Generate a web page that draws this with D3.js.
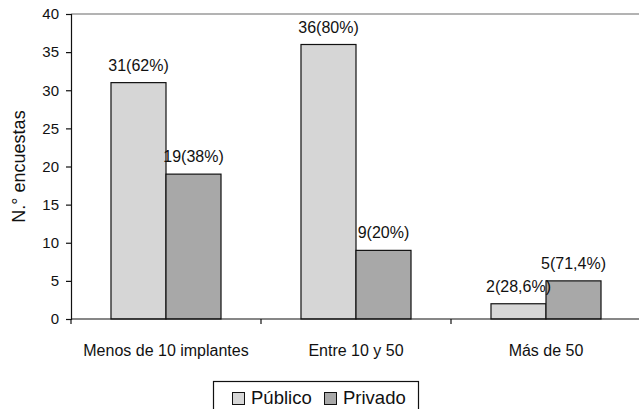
<!DOCTYPE html>
<html>
<head>
<meta charset="utf-8">
<script src="https://cdn.jsdelivr.net/npm/d3@7"></script>
<style>
  html, body { margin: 0; padding: 0; background: #fff; }
  svg { display: block; font-family: "Liberation Sans", Arial, sans-serif; }
</style>
</head>
<body>
<svg id="chart" width="639" height="409"></svg>
<script>
// Survey counts by number of implants, public vs private sector
const categories = ["Menos de 10 implantes", "Entre 10 y 50", "Más de 50"];
const seriesNames = ["Público", "Privado"];
const publico = [31, 36, 2];
const privado = [19, 9, 5];
const publicoLabels = ["31(62%)", "36(80%)", "2(28,6%)"];
const privadoLabels = ["19(38%)", "9(20%)", "5(71,4%)"];
const yTicks = [0, 5, 10, 15, 20, 25, 30, 35, 40];
const colors = ["#d6d6d6", "#a8a8a8"];

const svg = d3.select("#chart");
const plotLeft = 71, plotTop = 14, plotBottom = 319, plotRight = 641;

const x = d3.scaleBand().domain(categories).range([plotLeft, plotRight]).paddingInner(0).paddingOuter(0);
const xs = d3.scaleBand().domain(seriesNames).range([0, x.bandwidth()]).paddingInner(0).paddingOuter(0.727);
const y = d3.scaleLinear().domain([0, 40]).range([plotBottom, plotTop]);

// top plot border
svg.append("line")
  .attr("x1", plotLeft).attr("x2", 639)
  .attr("y1", y(40)).attr("y2", y(40))
  .attr("stroke", "#9a9a9a").attr("stroke-width", 1.6);

const rows = categories.map((c, i) => ({
  cat: c,
  vals: [
    { s: seriesNames[0], v: publico[i], label: publicoLabels[i], color: colors[0] },
    { s: seriesNames[1], v: privado[i], label: privadoLabels[i], color: colors[1] }
  ]
}));

const g = svg.selectAll("g.grp").data(rows).join("g")
  .attr("class", "grp")
  .attr("transform", d => `translate(${x(d.cat)},0)`);

g.selectAll("rect").data(d => d.vals).join("rect")
  .attr("x", d => xs(d.s))
  .attr("y", d => y(d.v))
  .attr("width", xs.bandwidth())
  .attr("height", d => y(0) - y(d.v))
  .attr("fill", d => d.color)
  .attr("stroke", "#111")
  .attr("stroke-width", 1.2);

g.selectAll("text.val").data(d => d.vals).join("text")
  .attr("class", "val")
  .attr("x", d => xs(d.s) + xs.bandwidth() / 2)
  .attr("y", d => y(d.v) - 12)
  .attr("text-anchor", "middle")
  .attr("font-size", 16)
  .attr("fill", "#111")
  .text(d => d.label);

// y axis
const yAxis = d3.axisLeft(y).tickValues(yTicks).tickSize(5).tickPadding(7);
const ya = svg.append("g").attr("transform", `translate(${plotLeft},0)`).call(yAxis);
ya.select(".domain").attr("stroke", "#111").attr("stroke-width", 1.2);
ya.selectAll(".tick line").attr("stroke", "#111").attr("stroke-width", 1.2);
ya.selectAll(".tick text").attr("font-size", 15).attr("fill", "#111")
  .attr("font-family", "Liberation Sans, Arial, sans-serif");

// x axis with ticks on category boundaries
const xa = svg.append("g").attr("transform", `translate(0,${plotBottom})`);
xa.append("line").attr("x1", plotLeft).attr("x2", plotRight)
  .attr("stroke", "#111").attr("stroke-width", 1.2);
xa.selectAll("line.tk").data(categories).join("line")
  .attr("class", "tk")
  .attr("x1", d => x(d)).attr("x2", d => x(d))
  .attr("y1", 0).attr("y2", 5)
  .attr("stroke", "#111").attr("stroke-width", 1.2);
xa.selectAll("text").data(categories).join("text")
  .attr("x", d => x(d) + x.bandwidth() / 2)
  .attr("y", 36.5)
  .attr("text-anchor", "middle")
  .attr("font-size", 16)
  .attr("fill", "#111")
  .text(d => d);

// y axis title
svg.append("text")
  .attr("transform", `translate(25,${(plotTop + plotBottom) / 2}) rotate(-90)`)
  .attr("text-anchor", "middle")
  .attr("font-size", 18)
  .attr("fill", "#111")
  .text("N.° encuestas");

// legend
const lg = svg.append("g");
lg.append("rect")
  .attr("x", 213.5).attr("y", 381.5).attr("width", 205).attr("height", 32)
  .attr("fill", "#fff").attr("stroke", "#111").attr("stroke-width", 1.2);
const items = [
  { name: seriesNames[0], color: colors[0], x: 232 },
  { name: seriesNames[1], color: colors[1], x: 324 }
];
items.forEach(it => {
  lg.append("rect")
    .attr("x", it.x + 0.5).attr("y", 392.5).attr("width", 12).attr("height", 12)
    .attr("fill", it.color).attr("stroke", "#111");
  lg.append("text")
    .attr("x", it.x + 19).attr("y", 403.5)
    .attr("font-size", 18.5)
    .attr("fill", "#111")
    .text(it.name);
});
</script>
</body>
</html>
